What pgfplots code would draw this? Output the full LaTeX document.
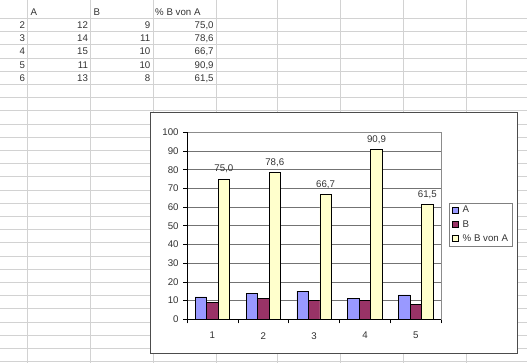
\documentclass[border=0pt]{standalone}
\usepackage{fontspec}
\setmainfont{Liberation Sans}
\usepackage{pgfplots}
\pgfplotsset{compat=1.18}
\definecolor{colA}{HTML}{9999FF}
\definecolor{colB}{HTML}{993366}
\definecolor{colC}{HTML}{FFFFCC}
\definecolor{gridc}{HTML}{D2D2D2}
\definecolor{txt}{HTML}{333333}
\begin{document}
\fontsize{9.7}{11.6}\selectfont
\begin{tikzpicture}[font=\fontsize{9.7}{11.6}\selectfont]
\useasboundingbox (0,0) rectangle (527pt,363pt);
\begin{scope}[x=1pt,y=-1pt,yshift=363pt]
  % spreadsheet grid
  \foreach \c in {27.5,90.8,153,216,277.8,340.4,403,465.9}
    \draw[gridc,line width=0.8pt] (\c,0) -- (\c,363);
  \foreach \k in {0,...,26}
    \draw[gridc,line width=0.8pt] (0,{18.4+13.2*\k}) -- (527,{18.4+13.2*\k});
  % spreadsheet text
  \begin{scope}[every node/.style={inner sep=0pt,text=txt}]
  \node[anchor=base west] at (30.3,16.0) {A};
  \node[anchor=base west] at (93.3,16.0) {B};
  \node[anchor=base west] at (155,16.0) {\% B von A};
  \node[anchor=base east] at (25.2,28.6) {2};
  \node[anchor=base east] at (88.2,28.6) {12};
  \node[anchor=base east] at (150.5,28.6) {9};
  \node[anchor=base east] at (213.8,28.6) {75,0};
  \node[anchor=base east] at (25.2,41.8) {3};
  \node[anchor=base east] at (88.2,41.8) {14};
  \node[anchor=base east] at (150.5,41.8) {11};
  \node[anchor=base east] at (213.8,41.8) {78,6};
  \node[anchor=base east] at (25.2,55.0) {4};
  \node[anchor=base east] at (88.2,55.0) {15};
  \node[anchor=base east] at (150.5,55.0) {10};
  \node[anchor=base east] at (213.8,55.0) {66,7};
  \node[anchor=base east] at (25.2,68.2) {5};
  \node[anchor=base east] at (88.2,68.2) {11};
  \node[anchor=base east] at (150.5,68.2) {10};
  \node[anchor=base east] at (213.8,68.2) {90,9};
  \node[anchor=base east] at (25.2,81.4) {6};
  \node[anchor=base east] at (88.2,81.4) {13};
  \node[anchor=base east] at (150.5,81.4) {8};
  \node[anchor=base east] at (213.8,81.4) {61,5};
  \end{scope}
  % chart frame
  \filldraw[fill=white,draw=black!70,line width=0.8pt] (150,112.5) rectangle (517.3,353.3);
\end{scope}
\begin{axis}[
  at={(187pt,43.7pt)}, anchor=south west,
  width=254.3pt, height=187pt, scale only axis,
  xmin=0.5, xmax=5.5, ymin=0, ymax=100,
  ybar=0pt, bar width=11.5pt,
  xtick={1,2,3,4,5},
  minor xtick={0.5,1.5,2.5,3.5,4.5,5.5},
  ytick={0,10,...,100},
  tick pos=left, tick align=outside,
  major tick length=4pt, minor tick length=4pt,
  major x tick style={draw=none},
  tick style={black, line width=0.6pt},
  ymajorgrids, major grid style={black!55, line width=0.6pt},
  axis line style={black!45, line width=0.6pt},
  /pgf/number format/assume math mode=true,
  ticklabel style={text=txt, font=\fontsize{9.7}{11.6}\selectfont},
  xticklabel style={yshift=-5.5pt},
  yticklabel style={xshift=-1pt},
  legend style={at={(1.0315,0.6235)}, anchor=north west, draw=black!50,
    line width=0.6pt, fill=white, font=\fontsize{9.7}{11.6}\selectfont,
    text=txt, inner xsep=2pt, inner ysep=1pt, row sep=2.2pt,
    /tikz/every odd column/.append style={column sep=2.5pt}},
  legend cell align=left,
  legend image code/.code={\draw[#1,draw=black,line width=0.6pt] (0pt,-3pt) rectangle (6pt,3pt);},
]
\addplot[fill=colA, draw=black, line width=0.6pt] coordinates {(1,12) (2,14) (3,15) (4,11) (5,13)};
\addplot[fill=colB, draw=black, line width=0.6pt] coordinates {(1,9) (2,11) (3,10) (4,10) (5,8)};
\addplot[fill=colC, draw=black, line width=0.6pt,
  nodes near coords={\pgfmathprintnumber[fixed,fixed zerofill,precision=1,use comma]{\pgfplotspointmeta}},
  nodes near coords style={text=txt, font=\fontsize{9.7}{11.6}\selectfont, yshift=2.5pt}]
  coordinates {(1,75.0) (2,78.6) (3,66.7) (4,90.9) (5,61.5)};
\legend{A, B, \% B von A}
\draw[black, line width=0.8pt] (rel axis cs:0,1) -- (rel axis cs:0,0) -- (rel axis cs:1,0);
\end{axis}
\end{tikzpicture}
\end{document}
